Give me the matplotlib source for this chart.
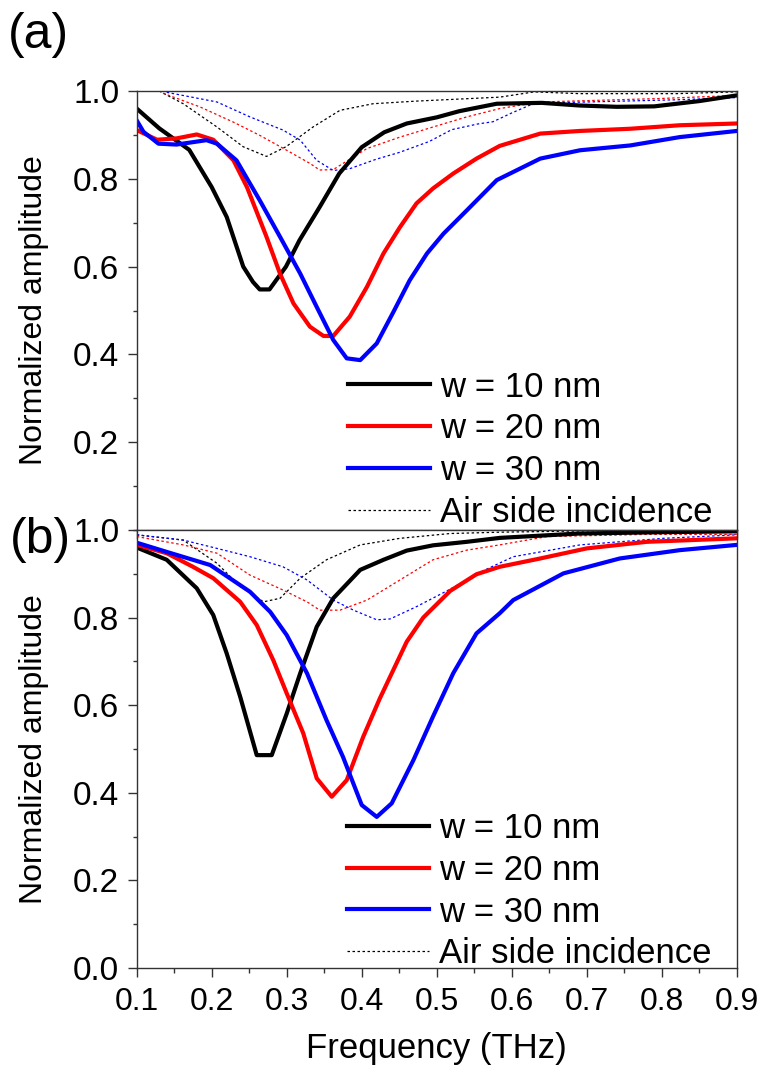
import numpy as np
import matplotlib
matplotlib.use("Agg")
import matplotlib.pyplot as plt
from matplotlib.ticker import MultipleLocator

plt.rcParams['font.family'] = ['Liberation Sans', 'DejaVu Sans']
narrow = ['Liberation Sans Narrow', 'DejaVu Sans Condensed', 'Liberation Sans']

labels = ['w = 10 nm', 'w = 20 nm', 'w = 30 nm', 'Air side incidence']
colors = ['black', 'red', 'blue']

# ---- (a) substrate side, solid curves ----
a10_x = [0.10, 0.13, 0.17, 0.20, 0.22, 0.242, 0.255, 0.264, 0.277, 0.299, 0.317, 0.344, 0.37, 0.40,
         0.43, 0.46, 0.50, 0.53, 0.58, 0.64, 0.69, 0.74, 0.79, 0.85, 0.90]
a10_y = [0.96, 0.915, 0.866, 0.781, 0.713, 0.60, 0.565, 0.548, 0.548, 0.60, 0.66, 0.736, 0.812, 0.872,
         0.906, 0.926, 0.94, 0.954, 0.971, 0.973, 0.967, 0.964, 0.965, 0.977, 0.99]
a20_x = [0.10, 0.127, 0.153, 0.18, 0.202, 0.229, 0.247, 0.273, 0.291, 0.309, 0.331, 0.349, 0.362, 0.384,
         0.407, 0.429, 0.451, 0.473, 0.495, 0.522, 0.553, 0.584, 0.638, 0.691, 0.758, 0.824, 0.90]
a20_y = [0.911, 0.889, 0.892, 0.901, 0.889, 0.842, 0.781, 0.668, 0.584, 0.516, 0.463, 0.442, 0.442, 0.486,
         0.554, 0.63, 0.69, 0.744, 0.778, 0.812, 0.846, 0.875, 0.903, 0.909, 0.914, 0.922, 0.926]
a30_x = [0.10, 0.109, 0.129, 0.153, 0.193, 0.207, 0.233, 0.264, 0.291, 0.318, 0.34, 0.362, 0.38, 0.398,
         0.42, 0.442, 0.464, 0.487, 0.509, 0.54, 0.58, 0.638, 0.691, 0.758, 0.824, 0.90]
a30_y = [0.933, 0.907, 0.88, 0.878, 0.888, 0.88, 0.842, 0.751, 0.668, 0.584, 0.508, 0.433, 0.391, 0.387,
         0.425, 0.496, 0.569, 0.63, 0.675, 0.728, 0.797, 0.846, 0.865, 0.876, 0.895, 0.909]

# ---- (a) air side, dotted curves ----
a10d_x = [0.13, 0.162, 0.207, 0.242, 0.273, 0.299, 0.335, 0.371, 0.415, 0.473, 0.584, 0.63, 0.69, 0.82, 0.90]
a10d_y = [1.0, 0.971, 0.918, 0.873, 0.851, 0.873, 0.918, 0.956, 0.971, 0.977, 0.986, 0.998, 0.994, 0.994, 0.998]
a20d_x = [0.135, 0.184, 0.229, 0.264, 0.30, 0.331, 0.344, 0.362, 0.389, 0.407, 0.451, 0.495, 0.54, 0.584,
          0.638, 0.80, 0.90]
a20d_y = [0.995, 0.964, 0.929, 0.899, 0.865, 0.835, 0.82, 0.821, 0.85, 0.869, 0.895, 0.918, 0.941, 0.96,
          0.975, 0.983, 0.99]
a30d_x = [0.14, 0.207, 0.251, 0.295, 0.318, 0.34, 0.362, 0.384, 0.42, 0.45, 0.49, 0.52, 0.555, 0.575,
          0.60, 0.63, 0.70, 0.82, 0.90]
a30d_y = [0.997, 0.975, 0.941, 0.911, 0.888, 0.842, 0.819, 0.823, 0.845, 0.86, 0.885, 0.912, 0.925, 0.93,
          0.95, 0.972, 0.975, 0.98, 0.985]

# ---- (b) solid curves ----
b10_x = [0.10, 0.14, 0.18, 0.202, 0.22, 0.238, 0.26, 0.28, 0.30, 0.318, 0.34, 0.362, 0.398, 0.429, 0.46,
         0.495, 0.54, 0.584, 0.69, 0.80, 0.90]
b10_y = [0.96, 0.932, 0.867, 0.806, 0.718, 0.619, 0.486, 0.486, 0.581, 0.673, 0.779, 0.844, 0.909, 0.932,
         0.953, 0.965, 0.973, 0.982, 0.992, 0.995, 0.997]
b20_x = [0.10, 0.14, 0.175, 0.202, 0.238, 0.26, 0.282, 0.30, 0.322, 0.34, 0.36, 0.38, 0.402, 0.424, 0.46,
         0.482, 0.518, 0.553, 0.584, 0.638, 0.70, 0.78, 0.90]
b20_y = [0.966, 0.947, 0.916, 0.89, 0.836, 0.783, 0.703, 0.627, 0.536, 0.433, 0.391, 0.429, 0.528, 0.615,
         0.745, 0.80, 0.861, 0.899, 0.916, 0.935, 0.958, 0.973, 0.981]
b30_x = [0.10, 0.14, 0.198, 0.251, 0.278, 0.30, 0.327, 0.353, 0.375, 0.40, 0.42, 0.44, 0.469, 0.495,
         0.522, 0.553, 0.584, 0.602, 0.669, 0.744, 0.824, 0.90]
b30_y = [0.971, 0.95, 0.92, 0.859, 0.813, 0.76, 0.673, 0.566, 0.482, 0.372, 0.345, 0.376, 0.475, 0.574,
         0.673, 0.764, 0.81, 0.84, 0.901, 0.935, 0.954, 0.966]

# ---- (b) dotted curves ----
b10d_x = [0.10, 0.162, 0.207, 0.238, 0.269, 0.291, 0.318, 0.353, 0.398, 0.451, 0.518, 0.584, 0.70, 0.90]
b10d_y = [0.989, 0.977, 0.924, 0.871, 0.836, 0.844, 0.89, 0.932, 0.966, 0.981, 0.992, 0.995, 0.998, 1.0]
b20d_x = [0.10, 0.162, 0.207, 0.251, 0.295, 0.327, 0.344, 0.371, 0.407, 0.451, 0.495, 0.54, 0.584, 0.647,
          0.78, 0.90]
b20d_y = [0.985, 0.966, 0.947, 0.897, 0.863, 0.836, 0.817, 0.817, 0.84, 0.886, 0.932, 0.954, 0.966, 0.985,
          0.99, 0.99]
b30d_x = [0.10, 0.162, 0.207, 0.251, 0.295, 0.327, 0.362, 0.389, 0.42, 0.438, 0.473, 0.518, 0.562, 0.602,
          0.691, 0.802, 0.90]
b30d_y = [0.989, 0.977, 0.958, 0.939, 0.916, 0.886, 0.84, 0.817, 0.795, 0.797, 0.825, 0.865, 0.907, 0.939,
          0.966, 0.981, 0.989]

panels = [
    ([(a10_x, a10_y), (a20_x, a20_y), (a30_x, a30_y)],
     [(a10d_x, a10d_y), (a20d_x, a20d_y), (a30d_x, a30d_y)]),
    ([(b10_x, b10_y), (b20_x, b20_y), (b30_x, b30_y)],
     [(b10d_x, b10d_y), (b20d_x, b20d_y), (b30d_x, b30d_y)]),
]

fig = plt.figure(figsize=(7.63, 10.70), dpi=100)
ax1 = fig.add_axes([0.1792, 0.50467, 0.7864, 0.41028])
ax2 = fig.add_axes([0.1792, 0.09533, 0.7864, 0.40934])
axes = [ax1, ax2]

dot = (0, (2, 2))
for ax, (solid, dotted) in zip(axes, panels):
    for (x, y), c in zip(dotted, colors):
        ax.plot(x, y, color=c, lw=0.9, linestyle=dot)
    for (x, y), c, lab in zip(solid, colors, labels):
        ax.plot(x, y, color=c, lw=3.0, label=lab, solid_joinstyle='round')
    ax.plot([], [], color='black', lw=0.9, linestyle=dot, label=labels[3])

    ax.set_xlim(0.1, 0.9)
    ax.set_ylim(0.0, 1.0)
    ax.xaxis.set_major_locator(MultipleLocator(0.1))
    ax.xaxis.set_minor_locator(MultipleLocator(0.05))
    ax.yaxis.set_major_locator(MultipleLocator(0.2))
    ax.yaxis.set_minor_locator(MultipleLocator(0.1))
    for s in ax.spines.values():
        s.set_linewidth(1.0)
        s.set_color('#333333')
    ax.tick_params(axis='y', which='major', direction='out', length=6.5, width=1.0,
                   labelsize=24, pad=6, color='#333333')
    ax.tick_params(axis='y', which='minor', direction='out', length=3, width=1.0, color='#333333')
    ax.set_ylabel('Normalized amplitude', fontsize=23)
    ax.yaxis.set_label_coords(-0.147, 0.5)

# top panel: ticks hanging into lower panel, no x labels
ax1.tick_params(axis='x', which='major', direction='out', length=6.5, width=1.0,
                labelbottom=False, color='#333333')
ax1.tick_params(axis='x', which='minor', direction='out', length=3, width=1.0, color='#333333')
ax1.set_yticks([0.2, 0.4, 0.6, 0.8, 1.0])
ax1.set_yticklabels(['0.2', '0.4', '0.6', '0.8', '1.0'])

ax2.tick_params(axis='x', which='major', direction='out', length=6.5, width=1.0,
                labelsize=23, pad=7, color='#333333')
ax2.tick_params(axis='x', which='minor', direction='out', length=3.5, width=1.0, color='#333333')
ax2.set_xticks(np.round(np.arange(0.1, 0.91, 0.1), 1))
ax2.set_xticklabels(['0.1', '0.2', '0.3', '0.4', '0.5', '0.6', '0.7', '0.8', '0.9'])
for t in ax2.get_xticklabels():
    t.set_family(narrow)
ax2.set_xlabel('Frequency (THz)', fontsize=25, family=narrow)
ax2.xaxis.set_label_coords(0.5, -0.145)
ax2.set_yticks([0.0, 0.2, 0.4, 0.6, 0.8, 1.0])
ax2.set_yticklabels(['0.0', '0.2', '0.4', '0.6', '0.8', '1.0'])

leg_pos = [(0.352, 0.003), (0.350, -0.005)]
for ax, pos in zip(axes, leg_pos):
    ax.legend(loc='lower left', bbox_to_anchor=pos, frameon=False, fontsize=25,
              borderpad=0, borderaxespad=0, handlelength=2.36, handletextpad=0.29,
              labelspacing=0.25)

fig.text(0.0105, 0.955, '(a)', fontsize=36, va='baseline', ha='left')
fig.text(0.0131, 0.4832, '(b)', fontsize=36, va='baseline', ha='left')

fig.savefig('out.png', dpi=100)
